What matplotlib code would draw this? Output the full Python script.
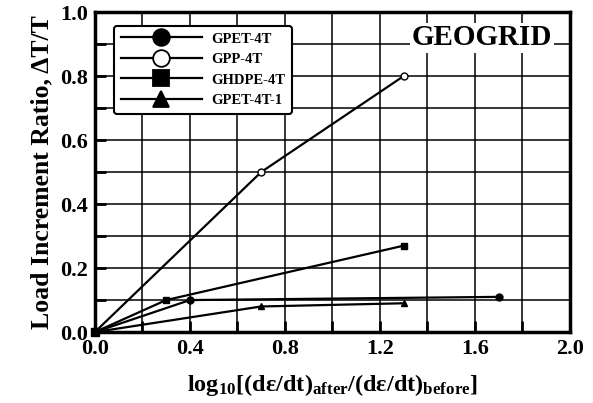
import matplotlib
matplotlib.use("Agg")
import matplotlib.pyplot as plt
from matplotlib.lines import Line2D
from matplotlib.ticker import MultipleLocator, FormatStrFormatter

plt.rcParams['font.family'] = ['Liberation Serif', 'DejaVu Serif']
plt.rcParams['font.weight'] = 'bold'
plt.rcParams['mathtext.fontset'] = 'custom'
plt.rcParams['mathtext.rm'] = 'Liberation Serif:bold'
plt.rcParams['mathtext.it'] = 'Liberation Serif:bold'
plt.rcParams['mathtext.bf'] = 'Liberation Serif:bold'

# data
gpet_x = [0.0, 0.4, 1.7]
gpet_y = [0.0, 0.10, 0.11]
gpp_x = [0.0, 0.7, 1.3]
gpp_y = [0.0, 0.50, 0.80]
ghdpe_x = [0.0, 0.3, 1.3]
ghdpe_y = [0.0, 0.10, 0.27]
gpet1_x = [0.0, 0.7, 1.3]
gpet1_y = [0.0, 0.08, 0.09]

names = ["GPET-4T", "GPP-4T", "GHDPE-4T", "GPET-4T-1"]
series = [(gpet_x, gpet_y, 'o', 'k'), (gpp_x, gpp_y, 'o', 'w'),
          (ghdpe_x, ghdpe_y, 's', 'k'), (gpet1_x, gpet1_y, '^', 'k')]

fig = plt.figure(figsize=(5.93, 4.03), dpi=100)
ax = fig.add_axes([0.160, 0.176, 0.801, 0.794])

for x, y, m, fc in series:
    ax.plot(x, y, color='k', lw=1.6, marker=m, ms=5, mfc=fc, mec='k', mew=1.0,
            markevery=[1, 2], zorder=3)
# filled origin square
ax.plot([0], [0], marker='s', ms=6, color='k', clip_on=False, zorder=4)

ax.set_xlim(0, 2.0)
ax.set_ylim(0, 1.0)
ax.xaxis.set_major_locator(MultipleLocator(0.4))
ax.xaxis.set_minor_locator(MultipleLocator(0.2))
ax.yaxis.set_major_locator(MultipleLocator(0.2))
ax.yaxis.set_minor_locator(MultipleLocator(0.1))
ax.grid(True, which='both', color='k', lw=1.1)
ax.set_axisbelow(True)
ax.tick_params(which='both', direction='in', length=8, width=2, labelsize=16, pad=5)
ax.xaxis.set_major_formatter(FormatStrFormatter('%.1f'))
ax.yaxis.set_major_formatter(FormatStrFormatter('%.1f'))
for lab in ax.get_xticklabels() + ax.get_yticklabels():
    lab.set_fontweight('bold')
for sp in ax.spines.values():
    sp.set_linewidth(2.5)

ax.set_xlabel(r"$\mathrm{log_{10}[(dε/dt)_{after}/(dε/dt)_{before}]}$", fontsize=17.5, labelpad=9)
ax.set_ylabel("Load Increment Ratio, ΔT/T", fontsize=18.5, fontweight='bold', labelpad=5)

ax.text(1.63, 0.92, "GEOGRID", fontsize=21, fontweight='bold', ha='center', va='center',
        bbox=dict(facecolor='white', edgecolor='none', pad=1), zorder=5)

handles = [Line2D([], [], color='k', lw=1.6, marker=m, ms=12, mfc=fc, mec='k', mew=1.3)
           for _, _, m, fc in series]
leg = ax.legend(handles, names, loc='upper left', bbox_to_anchor=(0.025, 0.98),
                fontsize=10.5, handlelength=5.6, handletextpad=0.6, labelspacing=0.5,
                borderpad=0.45, fancybox=True, framealpha=1, edgecolor='k')
leg.get_frame().set_linewidth(1.5)
leg.set_zorder(6)
for t in leg.get_texts():
    t.set_fontweight('bold')

fig.savefig("out.png", dpi=100)
